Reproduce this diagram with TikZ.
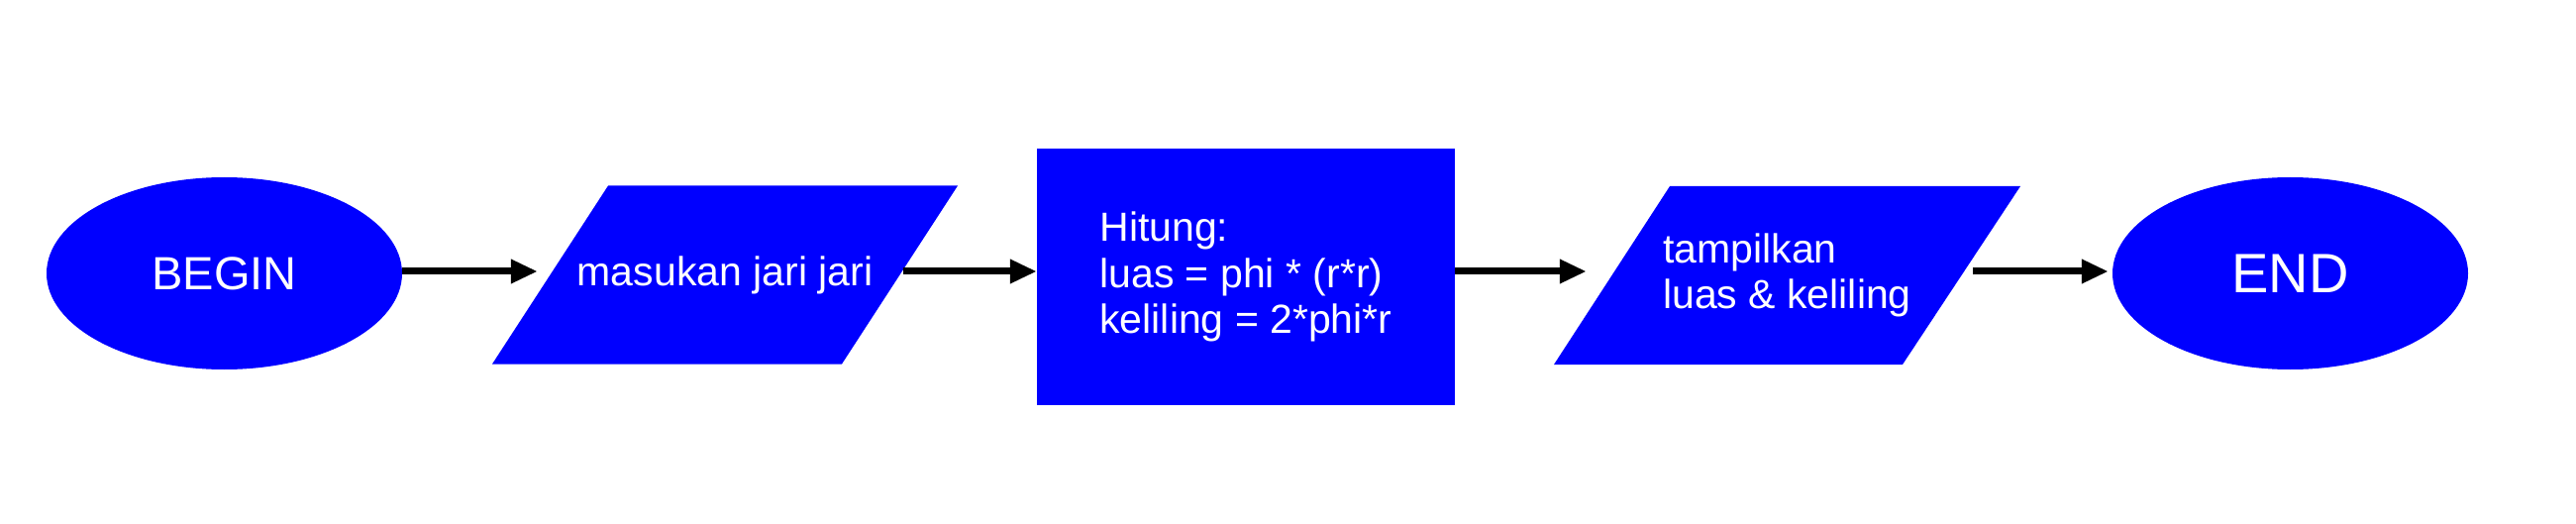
\documentclass[tikz,border=0pt]{standalone}
\usepackage{fontspec}
\setmainfont{Liberation Sans}
\usetikzlibrary{shapes.geometric,arrows.meta}
\begin{document}
\begin{tikzpicture}[x=1pt,y=-1pt,
  shapebox/.style={fill=blue, text=white, inner sep=0pt, draw=none},
  txt/.style={font=\fontsize{41}{46.5}\selectfont},
  parabody/.style={rectangle, text=white, inner sep=0pt, minimum width=353pt, minimum height=180pt},
  parafill/.style={fill=blue},
  terminal/.style={ellipse, minimum width=359pt, minimum height=194pt},
  arr/.style={line width=7pt, -{Triangle[length=27pt,width=23pt]}}]
\useasboundingbox (0,0) rectangle (2601,529);
% parallelogram backgrounds (drawn first, text nodes on top)
\path (732,277.5) coordinate (inc);
\path (1804.5,278) coordinate (outc);
\fill[parafill] ([xshift=-235pt,yshift=-90pt]inc) -- ([xshift=118pt,yshift=-90pt]inc)
  -- ([xshift=235pt,yshift=90pt]inc) -- ([xshift=-118pt,yshift=90pt]inc) -- cycle;
\fill[parafill] ([xshift=-235.5pt,yshift=-90pt]outc) -- ([xshift=116.5pt,yshift=-90pt]outc)
  -- ([xshift=235.5pt,yshift=90pt]outc) -- ([xshift=-118.5pt,yshift=90pt]outc) -- cycle;
\node[shapebox, terminal, font=\fontsize{47}{56}\selectfont] (begin) at (226.5,276) {BEGIN};
\node[parabody, txt] (in) at (inc) {masukan jari jari};
\node[shapebox, rectangle, minimum width=422pt, minimum height=259pt, txt, align=left] (proc) at (1258,279.5) {Hitung:\\luas = phi * (r*r)\\keliling = 2*phi*r};
\node[parabody, txt, align=left, minimum width=352pt] (out) at (outc) {tampilkan\\luas \& keliling};
\node[shapebox, terminal, font=\fontsize{56}{67}\selectfont] (end) at (2312.5,276) {END};
\draw[arr, shorten >=12.5pt] ([yshift=2pt]begin.east) -- ([yshift=2pt]begin.east -| in.west);
\draw[arr] ([xshift=3pt,yshift=3.5pt]in.east) -- ([yshift=3.5pt]in.east -| proc.west);
\draw[arr, shorten >=26.5pt] ([yshift=5.5pt]proc.east) -- ([yshift=5.5pt]proc.east -| out.west);
\draw[arr, shorten >=4pt] ([xshift=11.5pt,yshift=4pt]out.east) -- ([yshift=4pt]out.east -| end.west);
\end{tikzpicture}
\end{document}
